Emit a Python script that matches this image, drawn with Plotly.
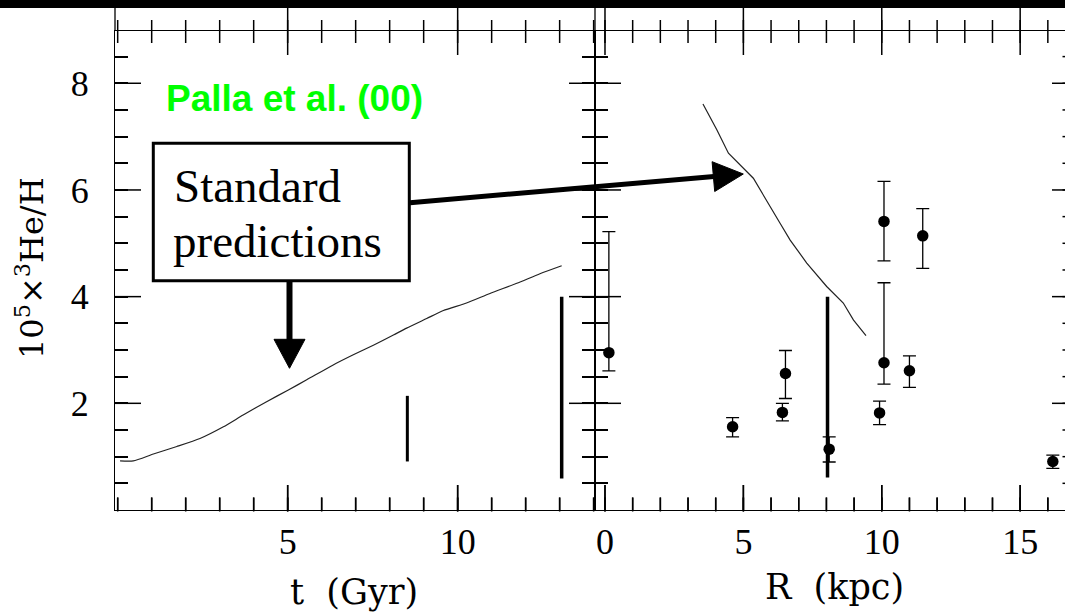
import plotly.graph_objects as go

# ---------------- data ----------------
# Left panel: standard model prediction of 3He/H vs time (solar vicinity)
t_model = [0.07, 0.46, 1.05, 1.74, 2.42, 3.11, 3.69, 4.38, 5.02, 5.56, 6.34, 6.93,
           7.52, 8.11, 8.50, 9.09, 9.58, 10.26, 10.95, 11.74, 12.42, 13.06]
he_t_model = [0.92, 0.92, 1.05, 1.19, 1.34, 1.56, 1.78, 2.03, 2.25, 2.44, 2.72, 2.91,
              3.09, 3.28, 3.41, 3.59, 3.74, 3.88, 4.06, 4.25, 4.43, 4.58]
# observed ranges (protosolar, local ISM)
t_obs = [8.52, 13.06]
t_obs_lo = [0.91, 0.59]
t_obs_hi = [2.14, 4.00]

# Right panel: standard model radial gradient
R_model = [3.54, 4.04, 4.46, 5.36, 6.32, 6.69, 7.29, 8.01, 8.61, 8.98, 9.43]
he_R_model = [7.61, 7.13, 6.69, 6.22, 5.38, 5.06, 4.63, 4.19, 3.88, 3.56, 3.27]
# HII region measurements
R_obs = [0.14, 4.61, 6.41, 6.52, 8.10, 9.92, 10.08, 10.08, 11.00, 11.48, 16.18]
he_obs = [2.95, 1.56, 1.83, 2.56, 1.14, 1.82, 5.41, 2.76, 2.61, 5.14, 0.91]
he_obs_hi = [5.22, 1.73, 2.00, 2.99, 1.37, 2.04, 6.16, 4.26, 2.89, 5.65, 1.03]
he_obs_lo = [2.61, 1.37, 1.67, 2.09, 0.90, 1.60, 4.67, 2.36, 2.30, 4.53, 0.78]
# local ISM range at the solar circle
R_bar = [8.04]
R_bar_lo = [0.61]
R_bar_hi = [4.00]

# ticks
t_major = [5, 10]
t_minor = list(range(0, 15))
R_major = [0, 5, 10, 15]
R_minor = list(range(0, 17))
y_major = [2, 4, 6, 8]
y_minor = [k / 2 for k in range(1, 18)]

T_RANGE = [-0.079, 14.04]
R_RANGE = [-0.361, 16.62]
Y_RANGE = [0, 8.98]

# ---------------- layout geometry ----------------
W, H = 1065, 612
ML, MR, MT, MB = 115, 0, 8, 102
PW, PH = W - ML - MR, H - MT - MB
D1 = 480 / PW
FTOP = 479 / PH          # panels end at the frame line (pixel 31)
Y_PER_PX = (Y_RANGE[1] - Y_RANGE[0]) / 479
T_PER_PX = (T_RANGE[1] - T_RANGE[0]) / 480
R_PER_PX = (R_RANGE[1] - R_RANGE[0]) / 470


def px(x):
    return (x - ML) / PW


def py(y):
    return (H - MB - y) / PH


fig = go.Figure()

# left panel
fig.add_trace(go.Scatter(x=t_model, y=he_t_model, mode="lines",
                         line=dict(color="#222", width=1.2, shape="spline", smoothing=0.6),
                         xaxis="x", yaxis="y", showlegend=False))
bar_widths_left = [3, 3.5]
for tv, lo, hi, w in zip(t_obs, t_obs_lo, t_obs_hi, bar_widths_left):
    fig.add_trace(go.Scatter(x=[tv, tv], y=[lo, hi], mode="lines",
                             line=dict(color="black", width=w),
                             xaxis="x", yaxis="y", showlegend=False))

# right panel
fig.add_trace(go.Scatter(x=R_model, y=he_R_model, mode="lines",
                         line=dict(color="#222", width=1.2),
                         xaxis="x2", yaxis="y2", showlegend=False))
for rv, lo, hi in zip(R_bar, R_bar_lo, R_bar_hi):
    fig.add_trace(go.Scatter(x=[rv, rv], y=[lo, hi], mode="lines",
                             line=dict(color="black", width=3.5),
                             xaxis="x2", yaxis="y2", showlegend=False))
fig.add_trace(go.Scatter(
    x=R_obs, y=he_obs, mode="markers",
    marker=dict(color="black", size=11.5, symbol="circle"),
    error_y=dict(type="data", symmetric=False,
                 array=[h - v for h, v in zip(he_obs_hi, he_obs)],
                 arrayminus=[v - l for v, l in zip(he_obs, he_obs_lo)],
                 color="black", thickness=1.3, width=6.5),
    xaxis="x2", yaxis="y2", showlegend=False))

TW = 1.5


# ---- tick marks drawn in data space (bottom frame + long y ticks)
def tick_trace(xs, ys, xaxis, yaxis):
    return go.Scatter(x=xs, y=ys, mode="lines", line=dict(color="black", width=TW),
                      xaxis=xaxis, yaxis=yaxis, showlegend=False, hoverinfo="skip",
                      cliponaxis=False)


for xa, ya, minor, major, rng, xper in (("x", "y", t_minor, t_major, T_RANGE, T_PER_PX),
                                        ("x2", "y2", R_minor, R_major, R_RANGE, R_PER_PX)):
    xs, ys = [], []
    for v in minor:
        xs += [v, v, None]
        ys += [Y_RANGE[0], Y_RANGE[0] + 12.5 * Y_PER_PX, None]
    for v in major:
        xs += [v, v, None]
        ys += [Y_RANGE[0], Y_RANGE[0] + 25 * Y_PER_PX, None]
    for v in y_major:
        xs += [rng[0], rng[0] + 26 * xper, None]
        ys += [v, v, None]
        if xa == "x":
            xs += [rng[1], rng[1] - 26 * xper, None]
        else:
            xs += [rng[1], rng[1] - 13 * xper, None]
        ys += [v, v, None]
    if xa == "x2":
        for v in y_minor:
            xs += [rng[1], rng[1] - 2.5 * xper, None]
            ys += [v, v, None]
    fig.add_trace(tick_trace(xs, ys, xa, ya))

tickfont = dict(family="Liberation Serif", size=36, color="black")


def labels(vals, shown):
    return [("%g" % v) if v in shown else "" for v in vals]


fig.update_layout(
    width=W, height=H,
    margin=dict(l=ML, r=MR, t=MT, b=MB),
    paper_bgcolor="white", plot_bgcolor="white",
    xaxis=dict(domain=[0, D1], range=T_RANGE, anchor="y",
               tickmode="array", tickvals=t_major, ticktext=labels(t_major, t_major),
               ticks="", showline=True, mirror=True, linecolor="black", linewidth=1.3,
               showgrid=False, zeroline=False, tickfont=tickfont),
    xaxis2=dict(domain=[D1, 1], range=R_RANGE, anchor="y2",
                tickmode="array", tickvals=R_major, ticktext=labels(R_major, R_major),
                ticks="", showline=True, mirror=True, linecolor="black", linewidth=1.3,
                showgrid=False, zeroline=False, tickfont=tickfont),
    yaxis=dict(domain=[0, FTOP], range=Y_RANGE, anchor="x",
               tickmode="array", tickvals=y_minor, ticktext=labels(y_minor, y_major),
               ticks="inside", ticklen=13, tickwidth=TW, tickcolor="black",
               showline=True, mirror="allticks", linecolor="black", linewidth=1.3,
               showgrid=False, zeroline=False, tickfont=tickfont,
               ticklabelstandoff=18),
    yaxis2=dict(domain=[0, FTOP], range=Y_RANGE, anchor="x2",
                tickmode="array", tickvals=y_minor, showticklabels=False,
                ticks="inside", ticklen=13, tickwidth=TW, tickcolor="black",
                showline=True, mirror=False, linecolor="black", linewidth=1.3,
                showgrid=False, zeroline=False),
)


def tx(v, panel):
    """paper x of an axis value (same linear mapping as the axis)."""
    if panel == 0:
        return (v - T_RANGE[0]) / (T_RANGE[1] - T_RANGE[0]) * D1
    return D1 + (v - R_RANGE[0]) / (R_RANGE[1] - R_RANGE[0]) * (1 - D1)


tick_line = dict(color="black", width=TW)
shapes = []
for panel, minor, major in ((0, t_minor, t_major), (1, R_minor, R_major)):
    for v in minor:
        # crossing the top frame line
        shapes.append(dict(type="line", xref="paper", yref="paper", x0=tx(v, panel),
                           x1=tx(v, panel), y0=py(20), y1=py(43), line=tick_line))
        # bottom frame
        shapes.append(dict(type="line", xref="paper", yref="paper", x0=tx(v, panel),
                           x1=tx(v, panel), y0=py(511.5), y1=py(497.5), line=tick_line))
    for v in major:
        shapes.append(dict(type="line", xref="paper", yref="paper", x0=tx(v, panel),
                           x1=tx(v, panel), y0=py(8), y1=py(55), line=tick_line))
        shapes.append(dict(type="line", xref="paper", yref="paper", x0=tx(v, panel),
                           x1=tx(v, panel), y0=py(511.5), y1=py(485), line=tick_line))

shapes += [
    # black strip at the very top
    dict(type="rect", xref="paper", yref="paper", x0=px(0), x1=px(W), y0=py(8), y1=py(-2),
         fillcolor="black", line=dict(width=0), layer="above"),
    # frame lines continuing up to the top strip
    dict(type="line", xref="paper", yref="paper", x0=px(115), x1=px(115), y0=py(8), y1=py(31),
         line=dict(color="black", width=1.3)),
    dict(type="line", xref="paper", yref="paper", x0=px(595), x1=px(595), y0=py(8), y1=py(31),
         line=dict(color="black", width=1.3)),
    # annotation box
    dict(type="rect", xref="paper", yref="paper", x0=px(153.3), x1=px(409.3),
         y0=py(280.7), y1=py(143.3), fillcolor="white",
         line=dict(color="black", width=3), layer="above"),
    # downward arrow
    dict(type="line", xref="paper", yref="paper", x0=px(289.5), x1=px(289.5),
         y0=py(282), y1=py(341), line=dict(color="black", width=6), layer="above"),
    dict(type="path", xref="paper", yref="paper",
         path=f"M{px(274)},{py(339.3)} L{px(305)},{py(339.3)} L{px(289.5)},{py(368.3)} Z",
         fillcolor="black", line=dict(color="black", width=1), layer="above"),
    # rightward arrow
    dict(type="line", xref="paper", yref="paper", x0=px(410), x1=px(714),
         y0=py(202.7), y1=py(176.6), line=dict(color="black", width=5), layer="above"),
    dict(type="path", xref="paper", yref="paper",
         path=f"M{px(743.3)},{py(174)} L{px(712.1)},{py(161.7)} L{px(714.7)},{py(191.5)} Z",
         fillcolor="black", line=dict(color="black", width=1), layer="above"),
]
fig.update_layout(shapes=shapes)

annotations = [
    dict(text="<b>Palla et al. (00)</b>", x=px(294), y=py(99), xref="paper", yref="paper",
         showarrow=False, xanchor="center", yanchor="middle",
         font=dict(family="Liberation Sans", size=37, color="#00ff00")),
    dict(text="Standard", x=px(172), y=py(186), xref="paper", yref="paper",
         showarrow=False, xanchor="left", yanchor="middle",
         font=dict(family="Liberation Serif", size=47, color="black")),
    dict(text="predictions", x=px(171), y=py(241), xref="paper", yref="paper",
         showarrow=False, xanchor="left", yanchor="middle",
         font=dict(family="Liberation Serif", size=47, color="black")),
    dict(text="10<sup>5</sup>×<sup>3</sup>He/H", x=px(30), y=py(268),
         xref="paper", yref="paper", showarrow=False, textangle=-90,
         xanchor="center", yanchor="middle",
         font=dict(family="DejaVu Serif", size=32, color="black")),
    dict(text="t\u00a0\u00a0(Gyr)", x=px(354), y=py(592), xref="paper", yref="paper",
         showarrow=False, xanchor="center", yanchor="middle",
         font=dict(family="DejaVu Serif", size=35, color="black")),
    dict(text="R\u00a0\u00a0(kpc)", x=px(834), y=py(587), xref="paper", yref="paper",
         showarrow=False, xanchor="center", yanchor="middle",
         font=dict(family="DejaVu Serif", size=35, color="black")),
]
fig.update_layout(annotations=annotations)

fig.write_html("out.html")
